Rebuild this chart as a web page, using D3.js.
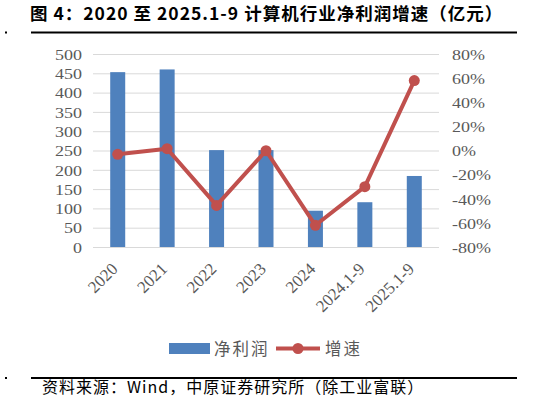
<!DOCTYPE html>
<html lang="zh">
<head>
<meta charset="UTF-8">
<title>计算机行业净利润增速</title>
<script src="https://cdn.jsdelivr.net/npm/d3@7"></script>
<style>
  body { margin: 0; background: #fff; }
  .axis text { font-family: "Liberation Serif", "DejaVu Serif", serif; font-size: 15px; fill: #595959; }
  .axis path, .axis line { display: none; }
  .grid line { stroke: #d9d9d9; stroke-width: 1; }
  .legend text { font-family: "Noto Sans CJK SC", sans-serif; font-size: 16.5px; fill: #595959; letter-spacing: 2px; }
</style>
</head>
<body>
<script>
// 数据（亿元 / 同比）
const categories = ["2020", "2021", "2022", "2023", "2024", "2024.1-9", "2025.1-9"];
const netProfit = [453, 460, 251, 251, 94, 116, 184];
const growth = [-3.2, 1.5, -45.5, -0.2, -62, -30, 58];
const leftTicks = [0, 50, 100, 150, 200, 250, 300, 350, 400, 450, 500];
const rightTicks = [-80, -60, -40, -20, 0, 20, 40, 60, 80];

const W = 537, H = 410;
const svg = d3.select("body").append("svg")
  .attr("width", W).attr("height", H);

// 标题
svg.append("text")
  .attr("x", 30).attr("y", 20)
  .attr("font-family", "'Noto Sans CJK SC', sans-serif")
  .attr("font-weight", "bold").attr("font-size", 17.5).attr("fill", "#000")
  .attr("letter-spacing", 1)
  .text("图 4：2020 至 2025.1-9 计算机行业净利润增速（亿元）");

// 上下两条黑线 + 左侧小点
[32.5, 378].forEach(y => {
  svg.append("line").attr("x1", 31).attr("x2", 517).attr("y1", y).attr("y2", y)
    .attr("stroke", "#000").attr("stroke-width", 2.2);
  svg.append("rect").attr("x", 5).attr("y", y - 1).attr("width", 2).attr("height", 2).attr("fill", "#000");
});

const plotL = 93, plotR = 439, plotT = 54, plotB = 247;

const x = d3.scaleBand().domain(categories).range([plotL, plotR]);
const yL = d3.scaleLinear().domain([0, 500]).range([plotB, plotT]);
const yR = d3.scaleLinear().domain([-80, 80]).range([plotB, plotT]);

// 网格线
svg.append("g").attr("class", "grid")
  .selectAll("line").data(leftTicks).enter().append("line")
  .attr("x1", plotL).attr("x2", plotR)
  .attr("y1", d => yL(d) + 0.5).attr("y2", d => yL(d) + 0.5);

// 柱子
const barW = 15;
svg.append("g").selectAll("rect").data(netProfit).enter().append("rect")
  .attr("x", (d, i) => x(categories[i]) + x.bandwidth() / 2 - barW / 2)
  .attr("y", d => yL(d))
  .attr("width", barW)
  .attr("height", d => plotB - yL(d))
  .attr("fill", "#4f81bd");

// 折线
const line = d3.line()
  .x((d, i) => x(categories[i]) + x.bandwidth() / 2)
  .y(d => yR(d));
svg.append("path").datum(growth)
  .attr("d", line)
  .attr("fill", "none").attr("stroke", "#c0504d").attr("stroke-width", 4)
  .attr("stroke-linejoin", "round");
svg.append("g").selectAll("circle").data(growth).enter().append("circle")
  .attr("cx", (d, i) => x(categories[i]) + x.bandwidth() / 2)
  .attr("cy", d => yR(d))
  .attr("r", 5.5).attr("fill", "#c0504d");

// 坐标轴（文字横向略拉宽，贴近原图）
svg.append("g").attr("class", "axis")
  .attr("transform", "translate(" + (plotL - 11) + ",0)")
  .call(d3.axisLeft(yL).tickValues(leftTicks).tickSize(0).tickPadding(0))
  .selectAll("text").attr("dy", "0.35em").attr("transform", "scale(1.2,1)");

svg.append("g").attr("class", "axis")
  .attr("transform", "translate(" + (plotR + 13) + ",0)")
  .call(d3.axisRight(yR).tickValues(rightTicks).tickSize(0).tickPadding(0)
    .tickFormat(d => d + "%"))
  .selectAll("text").attr("dy", "0.35em").attr("transform", "scale(1.2,1)");

const xAxis = svg.append("g").attr("class", "axis")
  .attr("transform", "translate(0," + (plotB + 23) + ")")
  .call(d3.axisBottom(x).tickSize(0).tickPadding(0));
xAxis.selectAll(".tick").attr("transform", d => "translate(" + (x(d) + x.bandwidth() / 2 + 1) + ",0)");
xAxis.selectAll("text")
  .attr("y", 0).attr("dy", 0)
  .attr("text-anchor", "end")
  .style("font-size", "17px")
  .attr("transform", "rotate(-45)");

// 图例
const lg = svg.append("g").attr("class", "legend");
lg.append("rect").attr("x", 169).attr("y", 343).attr("width", 41).attr("height", 11).attr("fill", "#4f81bd");
lg.append("text").attr("x", 214).attr("y", 354.5).text("净利润");
lg.append("line").attr("x1", 276).attr("x2", 320).attr("y1", 348.5).attr("y2", 348.5)
  .attr("stroke", "#c0504d").attr("stroke-width", 4);
lg.append("circle").attr("cx", 298).attr("cy", 348.5).attr("r", 5.5).attr("fill", "#c0504d");
lg.append("text").attr("x", 325).attr("y", 354.5).text("增速");

// 资料来源
svg.append("text")
  .attr("x", 42).attr("y", 393)
  .attr("font-family", "'Noto Sans CJK SC', sans-serif")
  .attr("font-size", 16).attr("fill", "#000")
  .attr("letter-spacing", 1)
  .text("资料来源：Wind，中原证券研究所（除工业富联）");
</script>
</body>
</html>
